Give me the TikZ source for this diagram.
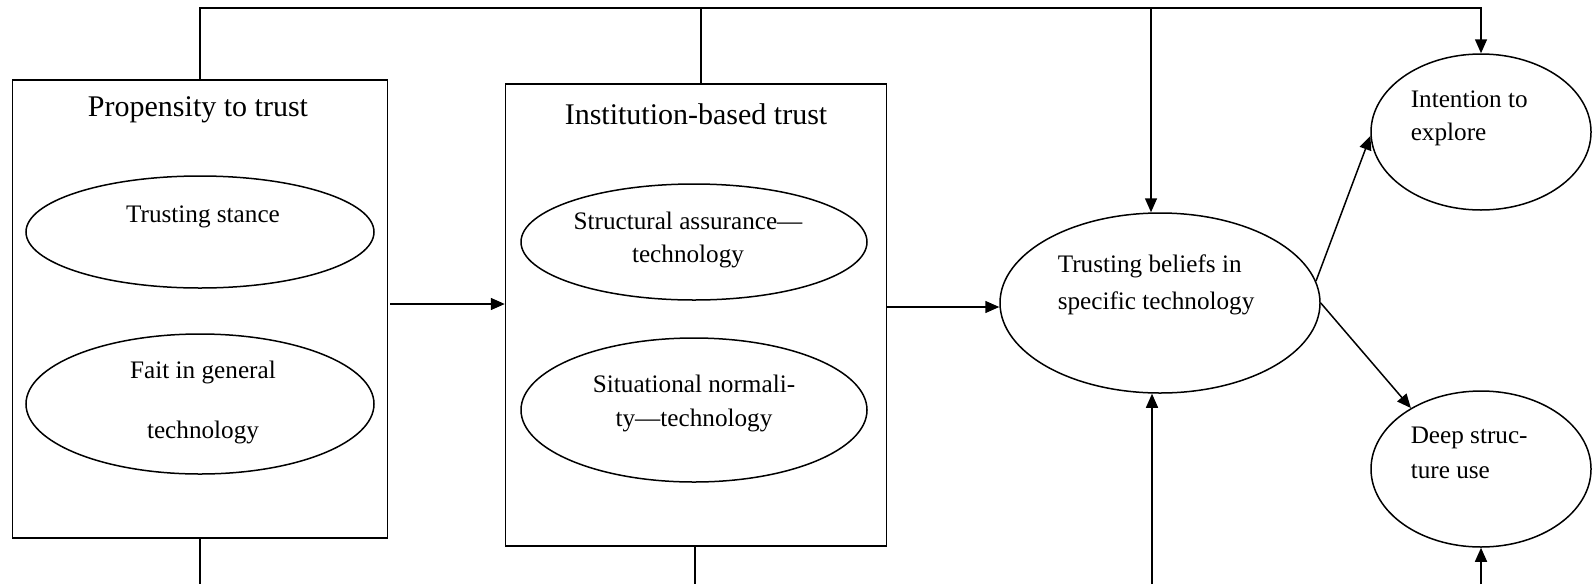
\documentclass[tikz,border=0pt]{standalone}
\usepackage{fontspec}
\setmainfont{Liberation Serif}
\usetikzlibrary{shapes.geometric,arrows.meta}
\begin{document}
\begin{tikzpicture}[x=0.5pt,y=-0.5pt,
  line width=0.75pt,
  frame/.style={draw,rectangle,inner sep=0pt},
  oval/.style={draw,ellipse,inner sep=0pt},
  title/.style={inner sep=0pt,font=\fontsize{15}{18}\selectfont},
  lbl/.style={inner sep=0pt,font=\fontsize{12.6}{16.5}\selectfont},
  arr/.style={-{Triangle[length=7pt,width=6pt]}}]
\useasboundingbox (0,0) rectangle (1593,584);

% construct boxes
\node[frame,minimum width=375*0.5pt,minimum height=458*0.5pt] (lbox) at (200,309) {};
\node[frame,minimum width=381*0.5pt,minimum height=462*0.5pt] (mbox) at (696,315) {};
\node[title] (ltitle) at (198,110) {Propensity to trust};
\node[title] (mtitle) at (696,114) {Institution-based trust};

% dimensions inside the boxes
\node[oval,minimum width=348*0.5pt,minimum height=112*0.5pt] (stance) at (200,232) {};
\node[oval,minimum width=348*0.5pt,minimum height=140*0.5pt] (faith) at (200,404) {};
\node[oval,minimum width=346*0.5pt,minimum height=116*0.5pt] (assur) at (694,242) {};
\node[oval,minimum width=346*0.5pt,minimum height=144*0.5pt] (normal) at (694,410) {};
\node[lbl] (stancet) at (203,217) {Trusting stance};
\node[lbl,align=center,font=\fontsize{12.6}{30}\selectfont] (faitht) at (203,402) {Fait in general\\technology};
\node[lbl,align=center] (assurt) at (688,240) {Structural assurance—\\technology};
\node[lbl,align=center,font=\fontsize{12.6}{17}\selectfont] (normalt) at (694,403) {Situational normali-\\ty—technology};

% outcome constructs
\node[oval,minimum width=320*0.5pt,minimum height=180*0.5pt] (trust) at (1160,303) {};
\node[oval,minimum width=220*0.5pt,minimum height=156*0.5pt] (intent) at (1481,132) {};
\node[oval,minimum width=220*0.5pt,minimum height=156*0.5pt] (deep) at (1481,469) {};
\node[lbl,align=left,anchor=west,font=\fontsize{12.6}{18.5}\selectfont] (trustt) at (1057,284.5) {Trusting beliefs in\\specific technology};
\node[lbl,align=left,anchor=west] (intentt) at (1410,118.5) {Intention to\\explore};
\node[lbl,align=left,anchor=west,font=\fontsize{12.6}{17.5}\selectfont] (deept) at (1410,452.5) {Deep struc-\\ture use};

% connector end points on the frame of the picture
\coordinate (topL) at (200,8);
\coordinate (topM) at (701,8);
\coordinate (topT) at (1151,8);
\coordinate (botL) at (200,584);
\coordinate (botM) at (695,584);
\coordinate (botT) at (1152,584);
\coordinate (botD) at (1481,584);
\coordinate (a1) at (0,304);
\coordinate (a2) at (0,307);

% top line
\draw[arr] (lbox.north) -- (topL) -| (intent.north);
\draw (topM |- mbox.north) -- (topM);
\draw[arr] (topT) -- (topT |- trust.north);

% lines leaving the bottom
\draw (lbox.south) -- (botL);
\draw (botM |- mbox.south) -- (botM);
\draw[arr] (botT) -- (botT |- trust.south);
\draw[arr] (botD) -- (deep.south);

% main path
\draw[arr] ([xshift=1pt]lbox.east |- a1) -- (mbox.west |- a1);
\draw[arr] (mbox.east |- a2) -- (trust.west |- a2);
\draw[arr] (trust.8) -- (intent.182);
\draw[arr] (trust.east) -- (deep.139);
\end{tikzpicture}
\end{document}
